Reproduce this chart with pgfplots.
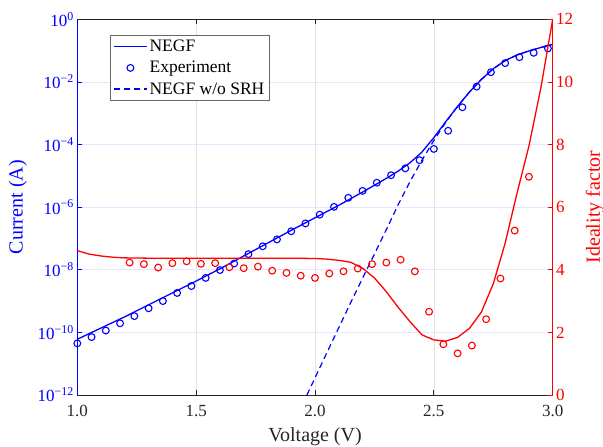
\documentclass[border=0pt]{standalone}
\usepackage{fontspec}
\setmainfont{Liberation Serif}
\usepackage{pgfplots}
\usepackage{pgfplotstable}
\pgfplotsset{compat=1.18}
\definecolor{axgray}{rgb}{0.15,0.15,0.15}

% current, log10 of A
\pgfplotstableread{
V lg
1.00 -10.35
1.06 -10.15
1.12 -9.94
1.18 -9.71
1.24 -9.48
1.30 -9.23
1.36 -9.00
1.42 -8.74
1.48 -8.52
1.54 -8.26
1.60 -8.01
1.66 -7.80
1.72 -7.50
1.78 -7.25
1.84 -7.03
1.90 -6.77
1.96 -6.52
2.02 -6.24
2.08 -5.99
2.14 -5.70
2.20 -5.48
2.26 -5.22
2.32 -4.98
2.38 -4.76
2.44 -4.50
2.50 -4.14
2.56 -3.56
2.62 -2.81
2.68 -2.15
2.74 -1.69
2.80 -1.40
2.86 -1.21
2.92 -1.07
2.98 -0.93
}\expI

\pgfplotstableread{
V lg
1.00 -10.22
1.10 -9.86
1.20 -9.50
1.30 -9.12
1.40 -8.74
1.50 -8.36
1.60 -7.97
1.70 -7.56
1.80 -7.15
1.90 -6.74
2.00 -6.34
2.10 -5.94
2.20 -5.52
2.30 -5.08
2.35 -4.85
2.40 -4.58
2.45 -4.24
2.50 -3.78
2.55 -3.27
2.60 -2.78
2.65 -2.32
2.70 -1.92
2.75 -1.58
2.80 -1.32
2.85 -1.14
2.90 -1.01
2.95 -0.90
3.00 -0.80
}\negfI

\pgfplotstableread{
V lg
1.966 -12.00
2.05 -10.65
2.10 -9.85
2.15 -9.05
2.20 -8.27
2.25 -7.50
2.30 -6.72
2.35 -5.92
2.40 -5.18
2.45 -4.50
2.50 -3.87
2.55 -3.29
2.60 -2.78
2.65 -2.32
2.70 -1.92
2.75 -1.58
2.80 -1.32
2.85 -1.14
2.90 -1.01
2.95 -0.90
3.00 -0.80
}\nosrhI

% ideality factor
\pgfplotstableread{
V n
1.22 4.23
1.28 4.18
1.34 4.07
1.40 4.21
1.46 4.27
1.52 4.19
1.58 4.21
1.64 4.08
1.70 4.05
1.76 4.10
1.82 3.97
1.88 3.90
1.94 3.81
2.00 3.74
2.06 3.88
2.12 3.95
2.18 4.04
2.24 4.18
2.30 4.23
2.36 4.32
2.42 3.95
2.48 2.66
2.54 1.62
2.60 1.33
2.66 1.58
2.72 2.42
2.78 3.72
2.84 5.25
2.90 6.97
}\expN

\pgfplotstableread{
V n
1.00 4.61
1.05 4.50
1.10 4.44
1.15 4.40
1.20 4.38
1.30 4.37
1.40 4.37
1.50 4.37
1.60 4.37
1.70 4.37
1.80 4.37
1.90 4.37
2.00 4.36
2.05 4.34
2.10 4.30
2.15 4.24
2.20 4.05
2.25 3.74
2.30 3.30
2.35 2.80
2.40 2.34
2.45 1.92
2.50 1.76
2.55 1.72
2.60 1.84
2.65 2.13
2.70 2.65
2.75 3.55
2.80 4.85
2.85 6.45
2.90 7.95
2.95 9.80
3.00 12.00
}\negfN

\begin{document}
\begin{tikzpicture}
\useasboundingbox (-77.3pt,-52pt) rectangle (525.7pt,395pt);

\begin{axis}[
  width=475.4pt, height=375.7pt, scale only axis,
  at={(0,0)}, anchor=south west,
  xmin=1, xmax=3,
  ymode=log, ymin=1e-12, ymax=1,
  axis x line*=box, axis y line*=left,
  x axis line style={axgray, line width=0.8pt},
  y axis line style={blue, line width=0.8pt},
  xtick={1,1.5,2,2.5,3},
  xtick style={axgray, line width=0.8pt},
  ytick style={blue, line width=0.8pt},
  major tick length=5pt,
  yminorticks=false,
  xticklabel style={axgray, font=\fontsize{17}{17}\selectfont, yshift=-7pt,
    /pgf/number format/.cd, fixed, fixed zerofill, precision=1, assume math mode=true},
  ytick={1e-12,1e-10,1e-8,1e-6,1e-4,1e-2,1},
  yticklabels={10\textsuperscript{−12},10\textsuperscript{−10},10\textsuperscript{−8},
    10\textsuperscript{−6},10\textsuperscript{−4},10\textsuperscript{−2},10\textsuperscript{0}},
  yticklabel style={blue, font=\fontsize{17}{17}\selectfont},
  grid=major,
  x grid style={gray!22, line width=0.6pt},
  y grid style={blue!10, line width=0.6pt},
  xlabel={Voltage (V)},
  ylabel={Current (A)},
  every axis x label/.style={at={(axis description cs:0.5,-0.11)}, anchor=center,
    font=\fontsize{20}{20}\selectfont, text=axgray},
  every axis y label/.style={at={(axis description cs:-0.125,0.5)}, anchor=center,
    rotate=90, font=\fontsize{20}{20}\selectfont, text=blue},
  legend style={at={(0.069,0.958)}, anchor=north west, draw=gray!80!black,
    fill=white, font=\fontsize{17.5}{21}\selectfont, cells={anchor=west},
    inner xsep=3pt, inner ysep=3pt, row sep=4pt},
  legend image code/.code={\draw[mark repeat=2, mark phase=2]
    plot coordinates {(0pt,0pt) (16.5pt,0pt) (33pt,0pt)};},
]
\addplot[blue, line width=1.3pt, no marks] table[x=V, y expr=10^(\thisrow{lg})] {\negfI};
\addlegendentry{NEGF}
\addplot[blue, only marks, mark=o, mark size=3.4pt, line width=1.1pt] table[x=V, y expr=10^(\thisrow{lg})] {\expI};
\addlegendentry{Experiment}
\addplot[blue, line width=1.2pt, no marks, dash pattern=on 6pt off 4pt] table[x=V, y expr=10^(\thisrow{lg})] {\nosrhI};
\addlegendentry{NEGF w/o SRH}
\end{axis}

\begin{axis}[
  width=475.4pt, height=375.7pt, scale only axis,
  at={(0,0)}, anchor=south west,
  xmin=1, xmax=3, ymin=0, ymax=12,
  axis x line=none, axis y line*=right,
  y axis line style={red, line width=0.8pt},
  ytick={0,2,...,12},
  ytick style={red, line width=0.8pt},
  major tick length=5pt,
  yticklabel style={red, font=\fontsize{17}{17}\selectfont,
    /pgf/number format/assume math mode=true},
  ylabel={Ideality factor},
  every axis y label/.style={at={(axis description cs:1.089,0.5)}, anchor=center,
    rotate=90, font=\fontsize{20}{20}\selectfont, text=red},
]
\addplot[red, line width=1.3pt, no marks] table[x=V, y=n] {\negfN};
\addplot[red, only marks, mark=o, mark size=3.4pt, line width=1.1pt] table[x=V, y=n] {\expN};
\end{axis}
\end{tikzpicture}
\end{document}
